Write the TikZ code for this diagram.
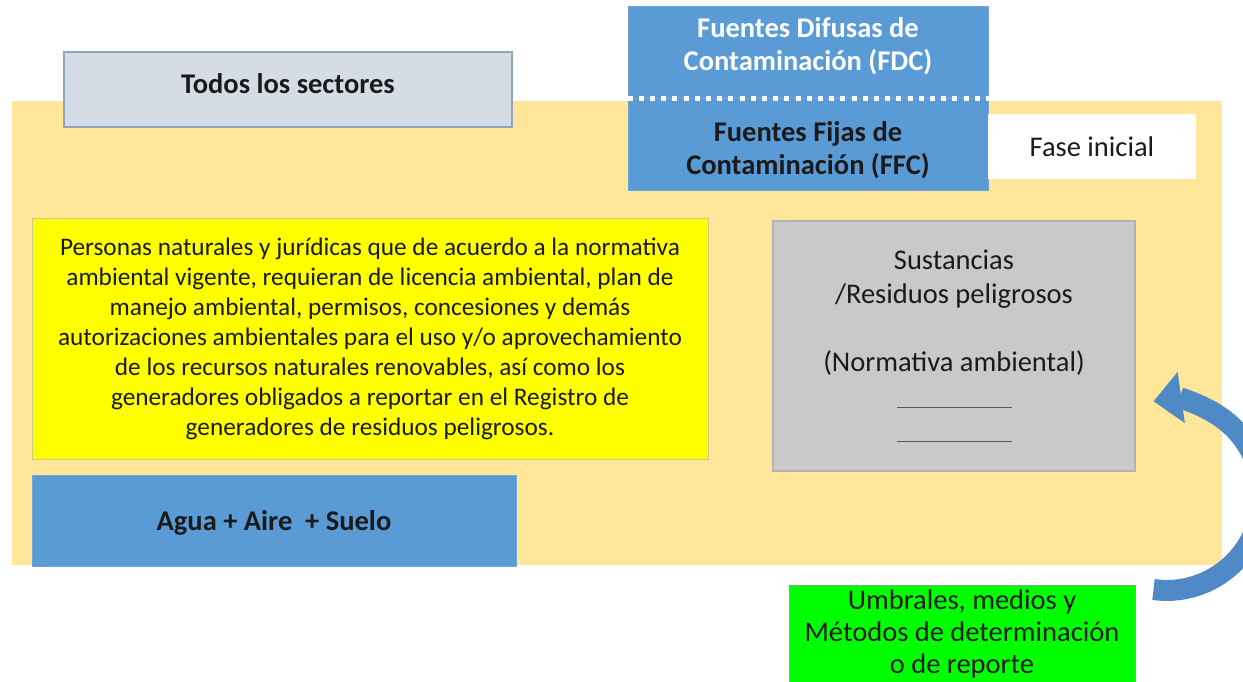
\documentclass[tikz,border=0pt]{standalone}
\usepackage{fontspec}
\setmainfont{Carlito}
\usepackage{tikz}
\usetikzlibrary{positioning, calc, arrows.meta}
\definecolor{TanBack}{HTML}{FFE699}
\definecolor{BlueBox}{HTML}{5B9BD5}
\definecolor{BlueEdge}{HTML}{6FA6DA}
\definecolor{SlateFill}{HTML}{D6DCE5}
\definecolor{SlateEdge}{HTML}{8EA4C0}
\definecolor{GreyFill}{HTML}{C9C9C9}
\definecolor{GreyEdge}{HTML}{B2B2B2}
\definecolor{YellowFill}{HTML}{FFFF00}
\definecolor{YellowEdge}{HTML}{C8C890}
\definecolor{GreenFill}{HTML}{00FF00}
\definecolor{GreenEdge}{HTML}{7FAF7F}
\definecolor{ArrowBlue}{HTML}{4F8AC6}
\definecolor{InkText}{HTML}{1A1A1A}

\begin{document}
\begin{tikzpicture}[x=1pt, y=-1pt,
    panel/.style={rectangle, inner sep=0pt, align=center, text=InkText,
        font=\fontsize{28.5}{34}\selectfont},
    bluepanel/.style={panel, fill=BlueBox, draw=BlueEdge, line width=1pt},
    dotline/.style={white, line width=5pt, dash pattern=on 5pt off 6.2pt},
    loopband/.style={ArrowBlue, line width=21pt, -{Triangle[length=28pt, width=50pt]}}]
    \useasboundingbox (0,0) rectangle (1243,681);
    \fill[TanBack] (12,101) rectangle (1222,565);

    \node[panel, fill=SlateFill, draw=SlateEdge, line width=1.2pt, minimum width=448, minimum height=75,
        text depth=12pt, font=\fontsize{28.5}{34}\selectfont\bfseries] (todos) at (288,89.5) {Todos los sectores};

    \node[bluepanel, minimum width=360, minimum height=92, text=white, text depth=17pt,
        font=\fontsize{28.5}{33}\selectfont\bfseries] (fdc) at (808,52) {Fuentes Difusas de\\Contaminación (FDC)};
    \node[bluepanel, minimum width=360, minimum height=92, text height=66pt,
        font=\fontsize{28.5}{33}\selectfont\bfseries] (ffc) at (808,144) {Fuentes Fijas de\\Contaminación (FFC)};
    \draw[dotline] (fdc.south west) -- (fdc.south east);
    \node[panel, fill=white, minimum width=208, minimum height=65] (fase) at (1092,146.5) {Fase inicial};

    \node[panel, fill=YellowFill, draw=YellowEdge, line width=1pt, minimum width=676, minimum height=241,
        font=\fontsize{25.3}{30}\selectfont] (personas) at (370,338.5)
        {Personas naturales y jurídicas que de acuerdo a la normativa\\
         ambiental vigente, requieran de licencia ambiental, plan de\\
         manejo ambiental, permisos, concesiones y demás\\
         autorizaciones ambientales para el uso y/o aprovechamiento\\
         de los recursos naturales renovables, así como los\\
         generadores obligados a reportar en el Registro de\\
         generadores de residuos peligrosos.};

    \node[panel, fill=GreyFill, draw=GreyEdge, line width=1.2pt, minimum width=362, minimum height=250] (sustancias) at (954,346)
        {Sustancias\\/Residuos peligrosos\\[34pt]
         (Normativa ambiental)\\[1pt]
         \textcolor{black!65}{\rule[-2pt]{115pt}{1.5pt}}\\
         \textcolor{black!65}{\rule[-2pt]{115pt}{1.5pt}}};
    \draw[GreyEdge, line width=1.2pt] (sustancias.north west) rectangle (sustancias.south east);

    \node[bluepanel, minimum width=484, minimum height=91, text height=24pt,
        font=\fontsize{28.5}{34}\selectfont\bfseries] (medios) at (274,520.5) {Agua + Aire\ \ + Suelo};

    \node[panel, fill=GreenFill, draw=GreenEdge, line width=1pt, minimum width=346, minimum height=98,
        font=\fontsize{28.5}{32}\selectfont] (umbral) at (962,634)
        {Umbrales, medios y\\Métodos de determinación\\o de reporte};

    % retorno hacia sustancias
    \coordinate (loopstart) at ($(umbral.north east)+(18,5)$);
    \draw[loopband] (loopstart) arc[start angle=98, end angle=-98, radius=95];
\end{tikzpicture}
\end{document}
